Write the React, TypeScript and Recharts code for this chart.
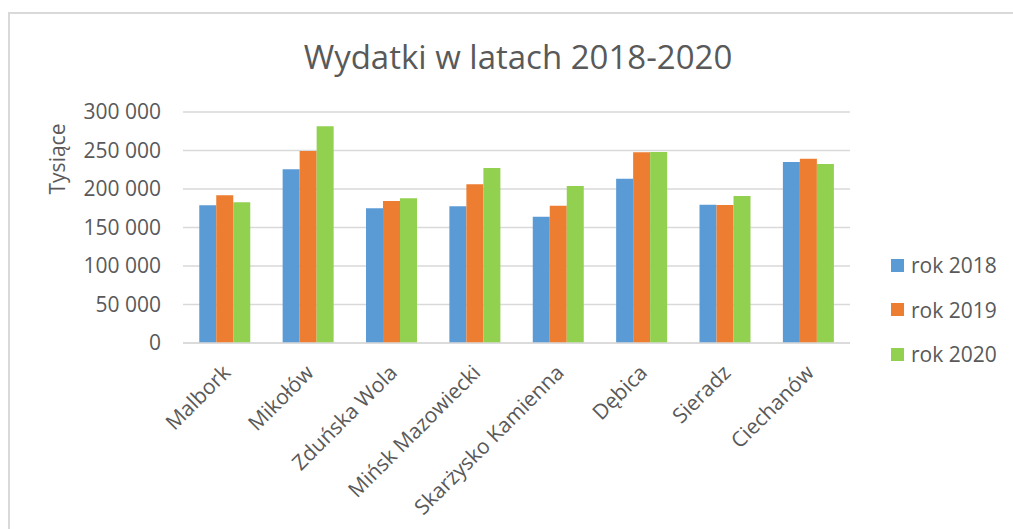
import React from 'react';
import { BarChart, Bar, XAxis, YAxis, CartesianGrid } from 'recharts';

const categories = ['Malbork', 'Mikołów', 'Zduńska Wola', 'Mińsk Mazowiecki', 'Skarżysko Kamienna', 'Dębica', 'Sieradz', 'Ciechanów'];
const rok2018 = [178800, 225500, 174900, 177500, 164000, 213400, 179600, 235000];
const rok2019 = [191800, 249300, 184400, 206100, 178300, 247600, 179200, 239400];
const rok2020 = [182700, 281400, 187900, 227300, 203900, 247900, 190900, 232500];
const yTicks = [0, 50000, 100000, 150000, 200000, 250000, 300000];
const seriesNames = ['rok 2018', 'rok 2019', 'rok 2020'];
const seriesKeys = ['r2018', 'r2019', 'r2020'];
const seriesColors = ['#5B9BD5', '#ED7D31', '#92D050'];
const title = 'Wydatki w latach 2018-2020';
const yLabel = 'Tysiące';

const data = categories.map((name, i) => ({
  name,
  r2018: rok2018[i],
  r2019: rok2019[i],
  r2020: rok2020[i],
}));

const FONT = '"Open Sans", sans-serif';
const TEXT = '#595959';

const fmt = (v: number) => String(v).replace(/\B(?=(\d{3})+(?!\d))/g, ' ');

const XTick = (props: any) => {
  const { x, y, payload } = props;
  const ax = x + 7;
  const ay = y + 31;
  return (
    <text
      x={ax}
      y={ay}
      textAnchor="end"
      fill={TEXT}
      fontSize={21}
      fontFamily={FONT}
      transform={`rotate(-45, ${ax}, ${ay})`}
    >
      {payload.value}
    </text>
  );
};

const YLabel = (props: any) => {
  const vb = props.viewBox || {};
  const cx = (vb.x || 0) + 65;
  const cy = (vb.y || 0) + 47;
  return (
    <text
      x={cx}
      y={cy}
      textAnchor="middle"
      fill={TEXT}
      fontSize={21}
      fontFamily={FONT}
      transform={`rotate(-90, ${cx}, ${cy})`}
    >
      {yLabel}
    </text>
  );
};

export default function App() {
  return (
    <div style={{ position: 'fixed', left: 0, top: 0, width: 1013, height: 529, overflow: 'hidden', background: '#fff' }}>
      <div
        style={{
          position: 'absolute',
          left: 8,
          top: 12,
          width: 1020,
          height: 540,
          borderLeft: '2px solid #d9d9d9',
          borderTop: '2px solid #d9d9d9',
          boxSizing: 'border-box',
        }}
      />
      <div
        style={{
          position: 'absolute',
          left: 0,
          width: 1036,
          top: 35,
          textAlign: 'center',
          fontFamily: FONT,
          fontSize: 33,
          color: TEXT,
          lineHeight: '44px',
          whiteSpace: 'nowrap',
        }}
      >
        {title}
      </div>
      <div style={{ position: 'absolute', left: 0, top: 0 }}>
        <BarChart
          width={1013}
          height={529}
          data={data}
          margin={{ top: 112, right: 163, bottom: 0, left: 0 }}
          barCategoryGap="19.5%"
          barGap={0}
        >
          <CartesianGrid vertical={false} stroke="#d9d9d9" strokeWidth={1.5} />
          <XAxis
            dataKey="name"
            height={186}
            tickLine={false}
            tickSize={0}
            tickMargin={0}
            axisLine={{ stroke: '#d9d9d9', strokeWidth: 1.5 }}
            tick={<XTick />}
            interval={0}
          />
          <YAxis
            width={183}
            domain={[0, 300000]}
            ticks={yTicks}
            tickFormatter={fmt}
            axisLine={false}
            tickLine={false}
            tickSize={0}
            tickMargin={22}
            tick={{ fill: TEXT, fontSize: 21, fontFamily: FONT }}
            label={<YLabel />}
            interval={0}
          />
          {seriesKeys.map((k, i) => (
            <Bar key={k} dataKey={k} name={seriesNames[i]} fill={seriesColors[i]} isAnimationActive={false} />
          ))}
        </BarChart>
      </div>
      <div style={{ position: 'absolute', left: 891, top: 243, fontFamily: FONT, fontSize: 21, color: TEXT }}>
        {seriesNames.map((n, i) => (
          <div key={n} style={{ display: 'flex', alignItems: 'center', height: 44.5, whiteSpace: 'nowrap' }}>
            <span style={{ display: 'inline-block', width: 13, height: 13, background: seriesColors[i], marginRight: 7 }} />
            <span>{n}</span>
          </div>
        ))}
      </div>
    </div>
  );
}
